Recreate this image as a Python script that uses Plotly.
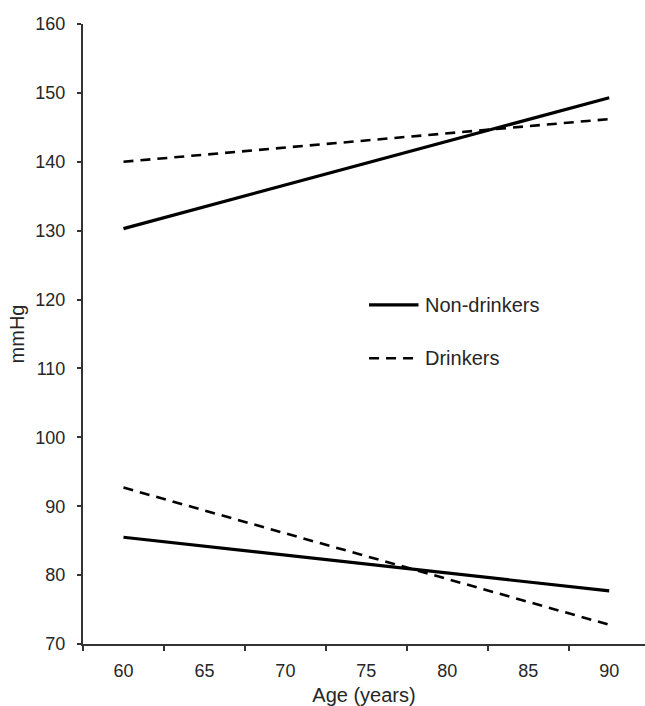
import plotly.graph_objects as go

# Data
ages = [60, 90]
sbp_non_drinkers = [130.3, 149.3]
sbp_drinkers = [140.0, 146.2]
dbp_non_drinkers = [85.5, 77.7]
dbp_drinkers = [92.7, 72.8]

x_labels = [60, 65, 70, 75, 80, 85, 90]
x_boundaries = [57.5, 62.5, 67.5, 72.5, 77.5, 82.5, 87.5, 92.5]
y_ticks = [70, 80, 90, 100, 110, 120, 130, 140, 150, 160]

FONT = "Liberation Sans, Arial, sans-serif"
TXT = "#262626"
AX = "#333333"
DASH = "10px,7px"

fig = go.Figure()
fig.add_trace(go.Scatter(x=ages, y=sbp_non_drinkers, mode="lines",
                         line=dict(color="black", width=3.2), showlegend=False))
fig.add_trace(go.Scatter(x=ages, y=sbp_drinkers, mode="lines",
                         line=dict(color="black", width=2.6, dash=DASH), showlegend=False))
fig.add_trace(go.Scatter(x=ages, y=dbp_non_drinkers, mode="lines",
                         line=dict(color="black", width=3.2), showlegend=False))
fig.add_trace(go.Scatter(x=ages, y=dbp_drinkers, mode="lines",
                         line=dict(color="black", width=2.6, dash=DASH), showlegend=False))

# custom legend
fig.add_shape(type="line", xref="paper", yref="paper", x0=0.509, x1=0.597, y0=0.547, y1=0.547,
              line=dict(color="black", width=3.2))
fig.add_shape(type="line", xref="paper", yref="paper", x0=0.509, x1=0.597, y0=0.461, y1=0.461,
              line=dict(color="black", width=2.6, dash=DASH))
fig.add_annotation(xref="paper", yref="paper", x=0.605, y=0.547, text="Non-drinkers",
                   showarrow=False, xanchor="left", yanchor="middle",
                   font=dict(family=FONT, size=20, color=TXT))
fig.add_annotation(xref="paper", yref="paper", x=0.605, y=0.461, text="Drinkers",
                   showarrow=False, xanchor="left", yanchor="middle",
                   font=dict(family=FONT, size=20, color=TXT))

fig.update_layout(
    width=645, height=706,
    margin=dict(l=83, r=0, t=24, b=62),
    plot_bgcolor="white", paper_bgcolor="white",
    font=dict(family=FONT, size=18, color=TXT),
    showlegend=False,
)
fig.update_xaxes(
    range=[57.5, 92.21], showgrid=False, zeroline=False,
    showline=True, linecolor=AX, linewidth=2,
    tickmode="array", tickvals=x_labels, ticktext=[str(v) for v in x_labels],
    ticks="outside", ticklen=5, tickcolor="rgba(0,0,0,0)",
    ticklabelstandoff=4,
    tickfont=dict(size=18),
    minor=dict(tickmode="array", tickvals=x_boundaries, ticks="outside", ticklen=5,
               tickcolor=AX, tickwidth=1.5, showgrid=False),
    title=dict(text="Age (years)", standoff=12, font=dict(size=20, color=TXT)),
)
fig.update_yaxes(
    range=[70, 160], showgrid=False, zeroline=False,
    showline=True, linecolor=AX, linewidth=2,
    tickmode="array", tickvals=y_ticks,
    ticks="outside", ticklen=4, tickcolor=AX, tickwidth=1.5,
    ticklabelstandoff=8,
    tickfont=dict(size=18),
    title=dict(text="mmHg", standoff=5, font=dict(size=20, color=TXT)),
)

fig.write_html("out.html")
